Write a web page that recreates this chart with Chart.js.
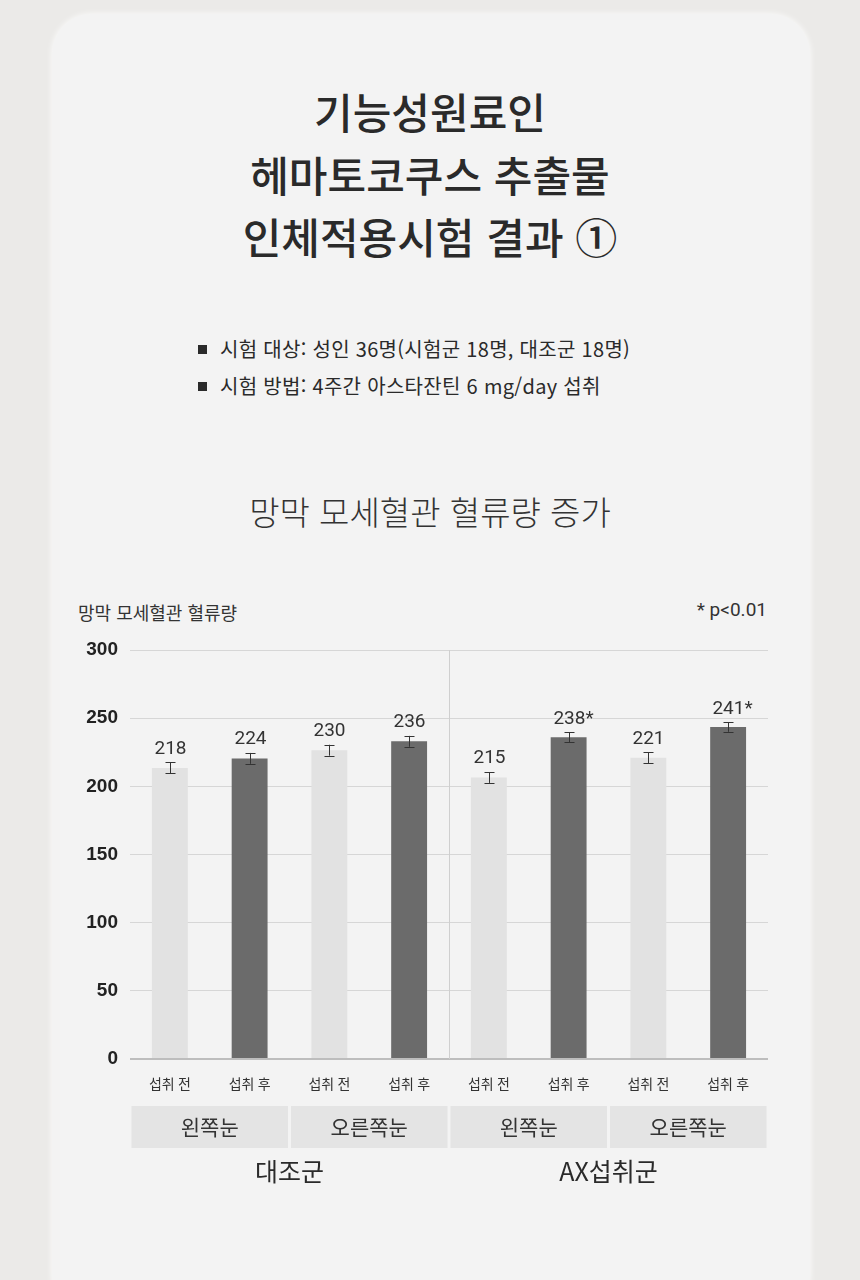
<!DOCTYPE html>
<html lang="ko">
<head>
<meta charset="utf-8">
<script src="https://cdn.jsdelivr.net/npm/chart.js@4"></script>
<style>
  html, body { margin: 0; padding: 0; }
  body { width: 860px; height: 1280px; background: #ebeae8; position: relative; overflow: hidden;
         font-family: "Noto Sans CJK KR", "Noto Sans", sans-serif; color: #262626; }
  .card { position: absolute; left: 52px; top: 14px; width: 758px; height: 1300px; background: #f3f3f3;
          border-radius: 40px; box-shadow: 0 0 6px rgba(255,255,255,0.9); }
  .title { position: absolute; left: 0; width: 860px; top: 80px; text-align: center; font-size: 42px;
           font-weight: 500; line-height: 62.5px; letter-spacing: 0px; color: #2a2a2a; }
  .bullets { position: absolute; left: 198px; top: 330px; font-size: 20px; line-height: 37px; color: #2a2a2a; letter-spacing: 0.3px; }
  .bullets div::before { content: ""; display: inline-block; width: 9px; height: 9px; background: #2a2a2a;
                         margin-right: 13px; vertical-align: 3px; }
  .sub { position: absolute; left: 0; width: 860px; top: 487px; text-align: center; font-size: 33px;
         font-weight: 300; color: #333; }
  .ytitle { position: absolute; left: 78px; top: 599px; font-size: 18px; color: #333; }
  .pnote { position: absolute; right: 93px; top: 598px; font-size: 19px; color: #333; font-family: Roboto, sans-serif; }
  #wrap { position: absolute; left: 0; top: 580px; width: 860px; height: 640px; }
</style>
</head>
<body>
<div class="card"></div>
<div class="title">기능성원료인<br>헤마토코쿠스 추출물<br>인체적용시험 결과 ①</div>
<div class="bullets">
  <div>시험 대상: 성인 36명(시험군 18명, 대조군 18명)</div>
  <div>시험 방법: 4주간 아스타잔틴 6 mg/day 섭취</div>
</div>
<div class="sub">망막 모세혈관 혈류량 증가</div>
<div class="ytitle">망막 모세혈관 혈류량</div>
<div class="pnote">* p&lt;0.01</div>
<div id="wrap"><canvas id="chart" width="860" height="640"></canvas></div>

<script>
// data
var categories = ['섭취 전', '섭취 후', '섭취 전', '섭취 후', '섭취 전', '섭취 후', '섭취 전', '섭취 후'];
var bar_values = [213.5, 220.5, 226.5, 233, 206.5, 236, 221, 243.5];
var error_values = [4, 4, 4, 4, 4, 3.5, 4, 3.5];
var value_labels = ['218', '224', '230', '236', '215', '238*', '221', '241*'];
var eye_labels = ['왼쪽눈', '오른쪽눈', '왼쪽눈', '오른쪽눈'];
var group_labels = ['대조군', 'AX섭취군'];
var y_ticks = [0, 50, 100, 150, 200, 250, 300];

var bar_colors = [];
for (let i = 0; i < bar_values.length; i++) {
    bar_colors.push(i % 2 == 0 ? '#e2e2e2' : '#6b6b6b');
}

const extras = {
    id: 'extras',
    afterDatasetsDraw(chart) {
        const ctx = chart.ctx;
        const x = chart.scales.x, y = chart.scales.y;
        const area = chart.chartArea;
        const meta = chart.getDatasetMeta(0);
        ctx.save();

        // separator between groups
        const sep = Math.round((x.getPixelForValue(3) + x.getPixelForValue(4)) / 2) + 0.5;
        ctx.strokeStyle = '#cfcfcf';
        ctx.lineWidth = 1;
        ctx.beginPath();
        ctx.moveTo(sep, area.top);
        ctx.lineTo(sep, area.bottom);
        ctx.stroke();

        // error bars and value labels
        ctx.strokeStyle = '#333';
        ctx.fillStyle = '#333';
        ctx.font = '19px Roboto, sans-serif';
        ctx.textAlign = 'center';
        ctx.textBaseline = 'bottom';
        for (let i = 0; i < bar_values.length; i++) {
            const cx = Math.round(meta.data[i].x) + 0.5;
            const top = y.getPixelForValue(bar_values[i] + error_values[i]);
            const bot = y.getPixelForValue(bar_values[i] - error_values[i]);
            ctx.beginPath();
            ctx.moveTo(cx, top); ctx.lineTo(cx, bot);
            ctx.moveTo(cx - 5, Math.round(top) + 0.5); ctx.lineTo(cx + 5, Math.round(top) + 0.5);
            ctx.moveTo(cx - 5, Math.round(bot) + 0.5); ctx.lineTo(cx + 5, Math.round(bot) + 0.5);
            ctx.stroke();
            ctx.fillText(value_labels[i], cx + (value_labels[i].indexOf('*') > 0 ? 4 : 0), top - 4);
        }

        // eye boxes
        const step = (area.right - area.left) / categories.length;
        ctx.textBaseline = 'middle';
        for (let k = 0; k < eye_labels.length; k++) {
            const l = area.left + step * 2 * k + 1.5;
            const r = area.left + step * 2 * (k + 1) - 1.5;
            ctx.fillStyle = '#e4e4e4';
            ctx.fillRect(l, area.bottom + 47, r - l, 42);
            ctx.fillStyle = '#333';
            ctx.font = '21px "Noto Sans CJK KR", sans-serif';
            ctx.fillText(eye_labels[k], (l + r) / 2, area.bottom + 68);
        }
        // group labels
        ctx.font = '25px "Noto Sans CJK KR", sans-serif';
        ctx.fillStyle = '#2a2a2a';
        for (let g = 0; g < group_labels.length; g++) {
            const l = area.left + step * 4 * g;
            ctx.fillText(group_labels[g], l + step * 2, area.bottom + 112);
        }
        ctx.restore();
    }
};

const config = {
    type: 'bar',
    data: {
        labels: categories,
        datasets: [{
            data: bar_values,
            backgroundColor: bar_colors,
            categoryPercentage: 0.9,
            barPercentage: 0.5
        }]
    },
    options: {
        responsive: false,
        animation: false,
        layout: { padding: { top: 70, right: 92, left: 0, bottom: 0 } },
        plugins: { legend: { display: false }, tooltip: { enabled: false } },
        scales: {
            x: {
                grid: { display: false },
                border: { display: false },
                ticks: { color: '#333', font: { size: 14, family: '"Noto Sans CJK KR", sans-serif' }, padding: 8, maxRotation: 0 },
                afterFit: function (axis) { axis.height = 161; }
            },
            y: {
                min: 0, max: 300,
                afterBuildTicks: function (axis) { axis.ticks = y_ticks.map(v => ({ value: v })); },
                grid: {
                    drawTicks: false,
                    color: ctx => ctx.tick && ctx.tick.value === 0 ? '#bdbdbd' : '#d6d6d6',
                    lineWidth: ctx => ctx.tick && ctx.tick.value === 0 ? 2 : 1
                },
                border: { display: false },
                ticks: { color: '#222', padding: 12, font: { size: 19, weight: 'bold', family: '"Liberation Sans", Roboto, sans-serif' } },
                afterFit: function (axis) { axis.width = 130; }
            }
        }
    },
    plugins: [extras]
};

const myChart = new Chart(document.getElementById('chart'), config);
</script>
</body>
</html>
